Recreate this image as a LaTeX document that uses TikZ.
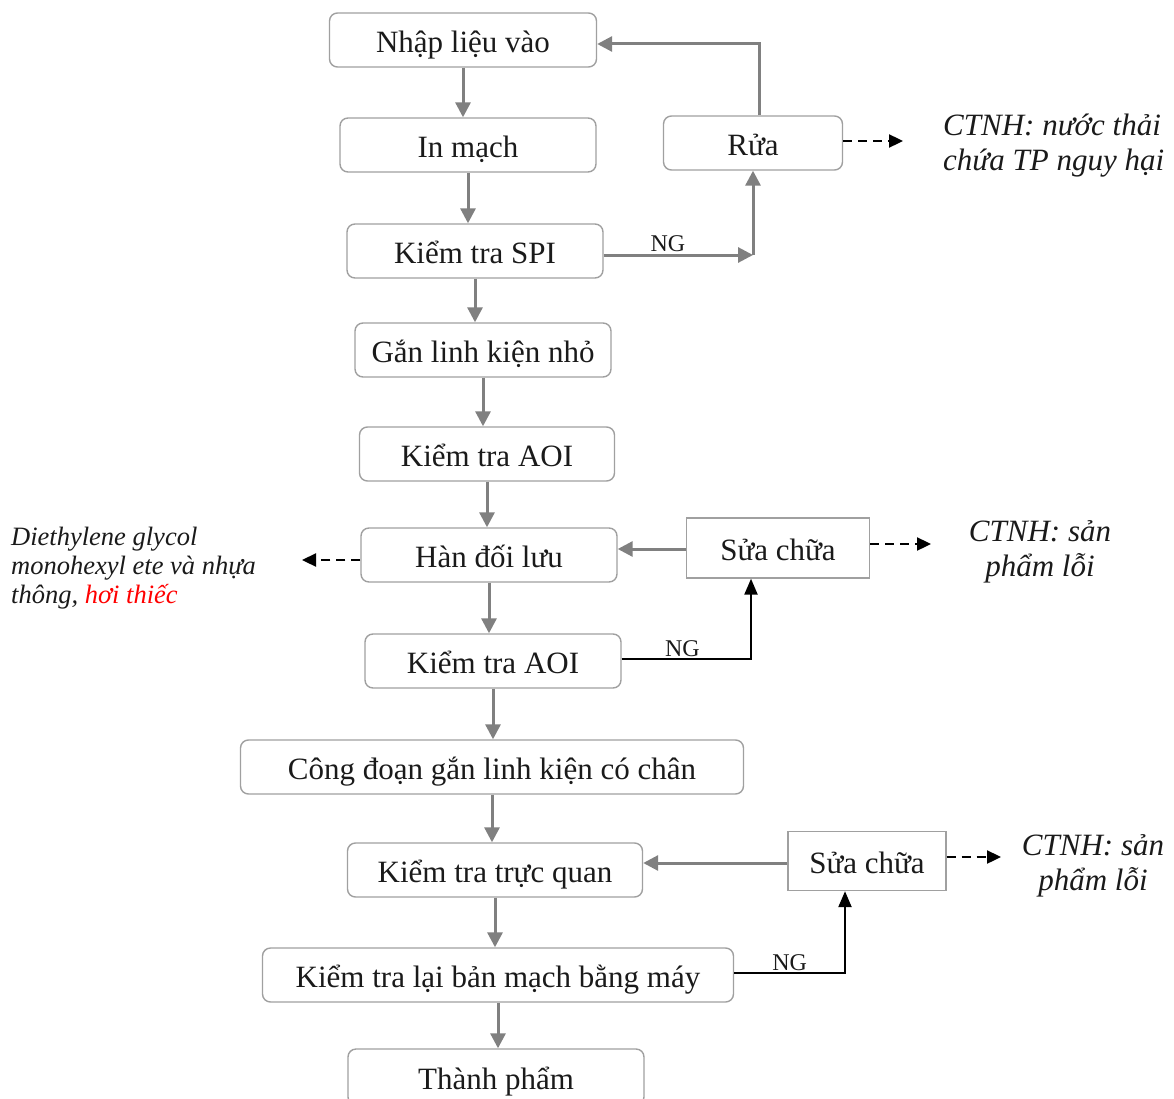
\documentclass[tikz,border=0pt]{standalone}
\usepackage{fontspec}
\setmainfont{Liberation Serif}
\usetikzlibrary{arrows.meta}
\definecolor{boxgray}{HTML}{A0A0A0}
\definecolor{arrgray}{HTML}{808080}
\definecolor{txt}{HTML}{1A1A1A}
\newcommand\mainsz{\fontsize{31}{37}\selectfont}
\newcommand\ngsz{\fontsize{24}{28}\selectfont}
\newcommand\notesz{\fontsize{31}{35}\selectfont}
\newcommand\leftsz{\fontsize{26.5}{29}\selectfont}
\begin{document}
\begin{tikzpicture}[x=1pt,y=-1pt,
  box/.style={draw=boxgray, line width=1.4pt, rounded corners=8pt, minimum height=54pt,
    inner sep=0pt, font=\mainsz, text=txt, text height=28pt, text depth=3pt},
  sqbox/.style={draw=boxgray, line width=1.4pt, minimum height=60pt, inner sep=0pt,
    font=\mainsz, text=txt, text height=28pt, text depth=3pt},
  garr/.style={draw=arrgray, line width=3pt, -{Triangle[width=15pt,length=15pt]}},
  barr/.style={draw=black, line width=2.3pt, -{Triangle[width=13pt,length=16pt]}},
  darr/.style={draw=black, line width=2.3pt, dash pattern=on 9pt off 6pt, -{Triangle[width=13pt,length=14pt]}},
  ng/.style={font=\ngsz, text=txt, inner sep=1.5pt, anchor=south},
  note/.style={font=\notesz\itshape, text=txt, inner sep=0pt}
]
\useasboundingbox (0,0) rectangle (1174,1099);

% main process column
\node[box, minimum width=267pt] (nhap) at (463,40) {Nhập liệu vào};
\node[box, minimum width=256pt] (inm) at (468,145) {In mạch};
\node[box, minimum width=256pt] (spi) at (475,251) {Kiểm tra SPI};
\node[box, minimum width=256pt] (gan) at (483,350) {Gắn linh kiện nhỏ};
\node[box, minimum width=255pt] (aoia) at (487,454) {Kiểm tra AOI};
\node[box, minimum width=256pt] (han) at (489,555) {Hàn đối lưu};
\node[box, minimum width=256pt] (aoib) at (493,661) {Kiểm tra AOI};
\node[box, minimum width=503pt] (cong) at (492,767) {Công đoạn gắn linh kiện có chân};
\node[box, minimum width=295pt] (trq) at (495,870) {Kiểm tra trực quan};
\node[box, minimum width=471pt] (lai) at (498,975) {Kiểm tra lại bản mạch bằng máy};
\node[box, minimum width=296pt, minimum height=56pt] (tp) at (496,1077) {Thành phẩm};

% side branches
\node[box, minimum width=179pt] (rua) at (753,143) {Rửa};
\node[sqbox, minimum width=183pt] (sca) at (778,548) {Sửa chữa};
\node[sqbox, minimum width=158pt, minimum height=59pt] (scb) at (867,861) {Sửa chữa};

% waste / emission notes
\node[note, anchor=west, align=left] (ctnha) at (943,146) {CTNH: nước thải\\chứa TP nguy hại};
\node[note, align=center] (ctnhb) at (1040,552) {CTNH: sản\\phẩm lỗi};
\node[note, align=center] (ctnhc) at (1093,866) {CTNH: sản\\phẩm lỗi};
\node[font=\leftsz\itshape, text=txt, inner sep=0pt, anchor=west, align=left] (khi) at (11,568)
  {Diethylene glycol\\monohexyl ete và nhựa\\thông, \textcolor{red}{hơi thiếc}};

% main flow
\draw[garr] (nhap.south) -- (nhap.south |- inm.north);
\draw[garr] (inm.south) -- (inm.south |- spi.north);
\draw[garr] (spi.south) -- (spi.south |- gan.north);
\draw[garr] (gan.south) -- (gan.south |- aoia.north);
\draw[garr] (aoia.south) -- (aoia.south |- han.north);
\draw[garr] (han.south) -- (han.south |- aoib.north);
\draw[garr] (aoib.south) -- (aoib.south |- cong.north);
\draw[garr] (cong.south) -- (cong.south |- trq.north);
\draw[garr] (trq.south) -- (trq.south |- lai.north);
\draw[garr] (lai.south) -- (lai.south |- tp.north);

% SPI reject loop through washing
\coordinate (spic) at (753,255);
\draw[garr] (spi.east |- spic) -- node[ng, pos=0.43] {NG} (spic);
\draw[garr] (spic) -- (rua.south);
\draw[garr] ([xshift=6pt]rua.north) |- ([yshift=-4pt]nhap.east);

% AOI reject loop through repair
\coordinate (aoic) at (751,659);
\draw[barr] (aoib.east |- aoic) -- node[ng, pos=0.47] {NG} (aoic) -- (aoic |- sca.south);
\draw[garr] ([yshift=-1pt]sca.west) -- ([yshift=-1pt]sca.west -| han.east);

% machine re-check reject loop through repair
\coordinate (laic) at (845,973);
\draw[barr] (lai.east |- laic) -- node[ng, pos=0.5] {NG} (laic) -- (laic |- scb.south);
\draw[garr] ([yshift=-2pt]scb.west) -- ([yshift=-2pt]scb.west -| trq.east);

% waste outputs
\coordinate (ruaout) at (903,141);
\coordinate (hanout) at (302,560);
\coordinate (scaout) at (931,544);
\coordinate (scbout) at (1001,857);
\draw[darr] (rua.east |- ruaout) -- (ruaout);
\draw[darr] (han.west |- hanout) -- (hanout);
\draw[darr] (sca.east |- scaout) -- (scaout);
\draw[darr] (scb.east |- scbout) -- (scbout);
\end{tikzpicture}
\end{document}
